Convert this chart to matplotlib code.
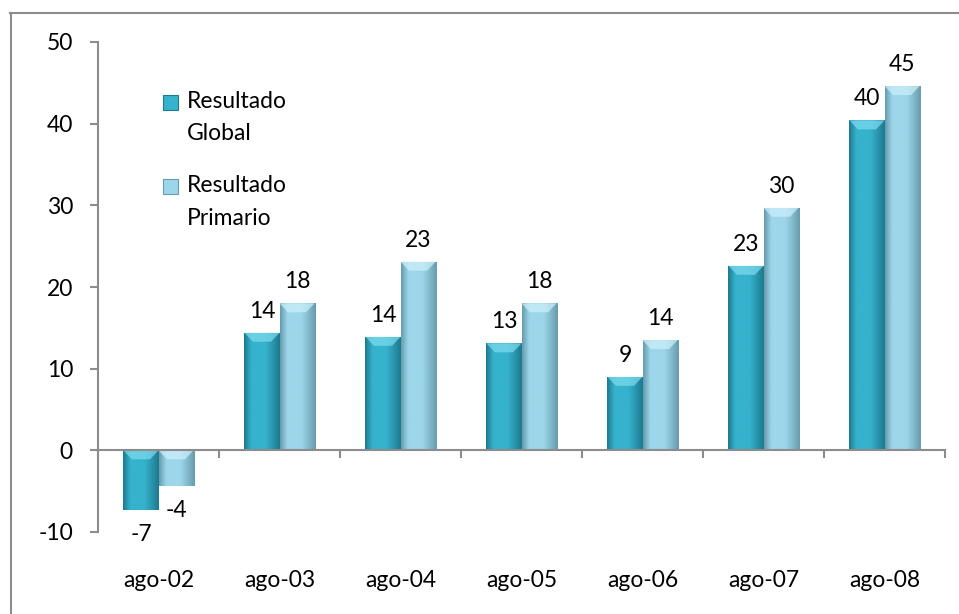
import numpy as np
import matplotlib

matplotlib.use('Agg')
import matplotlib.pyplot as plt
import matplotlib.transforms as mtransforms
from matplotlib.colors import LinearSegmentedColormap
from matplotlib.patches import Rectangle, Polygon
from matplotlib.lines import Line2D

# data
categories = ['ago-02', 'ago-03', 'ago-04', 'ago-05', 'ago-06', 'ago-07', 'ago-08']
global_vals = [-7.3, 14.4, 13.9, 13.1, 9.0, 22.6, 40.4]
primario_vals = [-4.4, 18.0, 23.1, 18.0, 13.5, 29.7, 44.6]
series_names = ['Resultado\nGlobal', 'Resultado\nPrimario']
y_ticks = [-10, 0, 10, 20, 30, 40, 50]

# (dark edge, light body, top cap)
palettes = [('#1d7a8f', '#36b2cd', '#7fdcef'),
            ('#679cae', '#9dd6ea', '#cdf1fb')]

plt.rcParams['font.family'] = ['Lato', 'DejaVu Sans']
plt.rcParams['axes.unicode_minus'] = False
grey = '#8c8c8c'
fs = 16.5

fig = plt.figure(figsize=(9.59, 6.14), dpi=100)
ax = fig.add_axes([98 / 959, 1 - 532 / 614, (945 - 98) / 959, 490 / 614])


def shaded_bar(ax, x0, width, h, pal):
    dark, light, cap = pal
    lo, hi = min(0, h), max(0, h)
    rect = Rectangle((x0, lo), width, hi - lo, facecolor='none', edgecolor='none')
    ax.add_patch(rect)
    cmap = LinearSegmentedColormap.from_list(
        'bar', [(0, dark), (0.2, light), (0.6, light), (1, dark)])
    grad = np.linspace(0, 1, 64).reshape(1, -1)
    im = ax.imshow(grad, cmap=cmap, extent=(x0, x0 + width, lo, hi),
                   aspect='auto', interpolation='bicubic', zorder=2)
    im.set_clip_path(rect)
    # light bevel on the upper edge
    d = min(1.1, (hi - lo) * 0.4)
    inset = 0.07
    ax.add_patch(Polygon([(x0, hi), (x0 + width, hi),
                          (x0 + width - inset, hi - d), (x0 + inset, hi - d)],
                         closed=True, facecolor=cap, edgecolor='none',
                         alpha=0.7, zorder=2.1))


w = 0.29
x = np.arange(len(categories))
for k, vals in enumerate([global_vals, primario_vals]):
    for i, v in enumerate(vals):
        x0 = x[i] - w + k * w
        shaded_bar(ax, x0, w, v, palettes[k])
        off = 8 if v >= 0 else -10
        ax.annotate(f'{v:.0f}', (x0 + w / 2, v), xytext=(0, off),
                    textcoords='offset points', ha='center',
                    va='bottom' if v >= 0 else 'top', fontsize=fs)

ax.set_xlim(-0.5, len(categories) - 0.5)
ax.set_ylim(-10, 50)

for s in ['top', 'right']:
    ax.spines[s].set_visible(False)
ax.spines['left'].set_color(grey)
ax.spines['left'].set_linewidth(1.5)
ax.spines['bottom'].set_position(('data', 0))
ax.spines['bottom'].set_color(grey)
ax.spines['bottom'].set_linewidth(1.5)
ax.spines['bottom'].set_zorder(3)

ax.set_yticks(y_ticks)
ax.set_xticks(np.arange(len(categories) + 1) - 0.5)
ax.set_xticklabels([])
ax.tick_params(axis='y', direction='out', length=6, width=1.5, color=grey,
               labelsize=fs, pad=12)
ax.tick_params(axis='x', direction='out', length=6, width=1.5, color=grey)

trans = mtransforms.blended_transform_factory(ax.transData, ax.transAxes)
for i, c in enumerate(categories):
    ax.text(i, -0.098, c, transform=trans, ha='center', va='center', fontsize=fs)

# manual legend (swatch aligned with first text line)
leg_y = [(102, 134), (186, 219)]
for k, name in enumerate(series_names):
    top_line, bottom_line = name.split('\n')
    y1, y2 = leg_y[k]
    fig.add_artist(Rectangle((163 / 959, 1 - (y1 + 8) / 614),
                             15 / 959, 15 / 614, transform=fig.transFigure,
                             facecolor=palettes[k][1], edgecolor=palettes[k][0], lw=0.8))
    fig.text(187 / 959, 1 - y1 / 614, top_line, ha='left', va='center', fontsize=fs)
    fig.text(187 / 959, 1 - y2 / 614, bottom_line, ha='left', va='center', fontsize=fs)

# outer frame (top and left edges)
fig.add_artist(Line2D([10 / 959, 1], [1 - 13 / 614] * 2, transform=fig.transFigure,
                      color=grey, lw=1.5))
fig.add_artist(Line2D([10.5 / 959] * 2, [0, 1 - 13 / 614], transform=fig.transFigure,
                      color=grey, lw=1.5))

plt.savefig('out.png', dpi=100)
